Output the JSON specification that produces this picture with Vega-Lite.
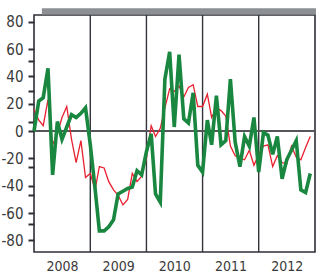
{
  "$schema": "https://vega.github.io/schema/vega-lite/v6.json",
  "width": 281,
  "height": 237,
  "autosize": {"type": "none"},
  "padding": {"left": 34, "top": 15, "right": 1, "bottom": 24},
  "config": {
    "view": {"stroke": "#2e2e36", "strokeWidth": 1.6},
    "axis": {"labelFont": "Liberation Sans Narrow, DejaVu Sans Condensed, sans-serif", "labelColor": "#3a3a3a", "grid": false, "domain": false, "title": null, "labelOverlap": false}
  },
  "datasets": {
    "series": [
      {"date":"2008-01-01","s":"red","v":16},{"date":"2008-02-01","s":"red","v":8},{"date":"2008-03-01","s":"red","v":4},{"date":"2008-04-01","s":"red","v":23},{"date":"2008-05-01","s":"red","v":-10},{"date":"2008-06-01","s":"red","v":-2},{"date":"2008-07-01","s":"red","v":10},{"date":"2008-08-01","s":"red","v":18},{"date":"2008-09-01","s":"red","v":-6},{"date":"2008-10-01","s":"red","v":-23},{"date":"2008-11-01","s":"red","v":-7},{"date":"2008-12-01","s":"red","v":-34},
      {"date":"2009-01-01","s":"red","v":-31},{"date":"2009-02-01","s":"red","v":-43},{"date":"2009-03-01","s":"red","v":-26},{"date":"2009-04-01","s":"red","v":-27},{"date":"2009-05-01","s":"red","v":-37},{"date":"2009-06-01","s":"red","v":-43},{"date":"2009-07-01","s":"red","v":-47},{"date":"2009-08-01","s":"red","v":-54},{"date":"2009-09-01","s":"red","v":-50},{"date":"2009-10-01","s":"red","v":-31},{"date":"2009-11-01","s":"red","v":-37},{"date":"2009-12-01","s":"red","v":-33},
      {"date":"2010-01-01","s":"red","v":-20},{"date":"2010-02-01","s":"red","v":4},{"date":"2010-03-01","s":"red","v":-4},{"date":"2010-04-01","s":"red","v":2},{"date":"2010-05-01","s":"red","v":17},{"date":"2010-06-01","s":"red","v":31},{"date":"2010-07-01","s":"red","v":29},{"date":"2010-08-01","s":"red","v":33},{"date":"2010-09-01","s":"red","v":25},{"date":"2010-10-01","s":"red","v":32},{"date":"2010-11-01","s":"red","v":34},{"date":"2010-12-01","s":"red","v":18},
      {"date":"2011-01-01","s":"red","v":18},{"date":"2011-02-01","s":"red","v":27},{"date":"2011-03-01","s":"red","v":10},{"date":"2011-04-01","s":"red","v":17},{"date":"2011-05-01","s":"red","v":15},{"date":"2011-06-01","s":"red","v":11},{"date":"2011-07-01","s":"red","v":-11},{"date":"2011-08-01","s":"red","v":-18},{"date":"2011-09-01","s":"red","v":-20},{"date":"2011-10-01","s":"red","v":-21},{"date":"2011-11-01","s":"red","v":-14},{"date":"2011-12-01","s":"red","v":-25},
      {"date":"2012-01-01","s":"red","v":-17},{"date":"2012-02-01","s":"red","v":-11},{"date":"2012-03-01","s":"red","v":-10},{"date":"2012-04-01","s":"red","v":-26},{"date":"2012-05-01","s":"red","v":-18},{"date":"2012-06-01","s":"red","v":-23},{"date":"2012-07-01","s":"red","v":-24},{"date":"2012-08-01","s":"red","v":-11},{"date":"2012-09-01","s":"red","v":-19},{"date":"2012-10-01","s":"red","v":-21},{"date":"2012-11-01","s":"red","v":-12},{"date":"2012-12-01","s":"red","v":-4},
      {"date":"2008-01-01","s":"green","v":0},{"date":"2008-02-01","s":"green","v":22},{"date":"2008-03-01","s":"green","v":24.5},{"date":"2008-04-01","s":"green","v":46},{"date":"2008-05-01","s":"green","v":-32},{"date":"2008-06-01","s":"green","v":7},{"date":"2008-07-01","s":"green","v":-6},{"date":"2008-08-01","s":"green","v":3},{"date":"2008-09-01","s":"green","v":12},{"date":"2008-10-01","s":"green","v":10},{"date":"2008-11-01","s":"green","v":13},{"date":"2008-12-01","s":"green","v":17},
      {"date":"2009-01-01","s":"green","v":-10},{"date":"2009-02-01","s":"green","v":-42},{"date":"2009-03-01","s":"green","v":-73},{"date":"2009-04-01","s":"green","v":-73},{"date":"2009-05-01","s":"green","v":-70},{"date":"2009-06-01","s":"green","v":-65},{"date":"2009-07-01","s":"green","v":-46},{"date":"2009-08-01","s":"green","v":-44},{"date":"2009-09-01","s":"green","v":-42},{"date":"2009-10-01","s":"green","v":-41},{"date":"2009-11-01","s":"green","v":-29},{"date":"2009-12-01","s":"green","v":-32},
      {"date":"2010-01-01","s":"green","v":-15},{"date":"2010-02-01","s":"green","v":-2},{"date":"2010-03-01","s":"green","v":-46},{"date":"2010-04-01","s":"green","v":-52},{"date":"2010-05-01","s":"green","v":38},{"date":"2010-06-01","s":"green","v":58},{"date":"2010-07-01","s":"green","v":3},{"date":"2010-08-01","s":"green","v":56},{"date":"2010-09-01","s":"green","v":9},{"date":"2010-10-01","s":"green","v":6},{"date":"2010-11-01","s":"green","v":28},{"date":"2010-12-01","s":"green","v":-25},
      {"date":"2011-01-01","s":"green","v":-30},{"date":"2011-02-01","s":"green","v":8},{"date":"2011-03-01","s":"green","v":-10},{"date":"2011-04-01","s":"green","v":26},{"date":"2011-05-01","s":"green","v":-10},{"date":"2011-06-01","s":"green","v":-7},{"date":"2011-07-01","s":"green","v":38},{"date":"2011-08-01","s":"green","v":-8},{"date":"2011-09-01","s":"green","v":-26},{"date":"2011-10-01","s":"green","v":-4},{"date":"2011-11-01","s":"green","v":-11},{"date":"2011-12-01","s":"green","v":10},
      {"date":"2012-01-01","s":"green","v":-30},{"date":"2012-02-01","s":"green","v":-1},{"date":"2012-03-01","s":"green","v":-3},{"date":"2012-04-01","s":"green","v":-17},{"date":"2012-05-01","s":"green","v":-4},{"date":"2012-06-01","s":"green","v":-35},{"date":"2012-07-01","s":"green","v":-21},{"date":"2012-08-01","s":"green","v":-14},{"date":"2012-09-01","s":"green","v":-7},{"date":"2012-10-01","s":"green","v":-43},{"date":"2012-11-01","s":"green","v":-45},{"date":"2012-12-01","s":"green","v":-31}
    ],
    "years": [{"d":"2009-01-01"},{"d":"2010-01-01"},{"d":"2011-01-01"},{"d":"2012-01-01"}],
    "one": [{}]
  },
  "layer": [
    {
      "data": {"name": "years"},
      "mark": {"type": "rule", "color": "#34343c", "strokeWidth": 1.4},
      "encoding": {
        "x": {"field": "d", "type": "temporal"}
      }
    },
    {
      "data": {"name": "one"},
      "mark": {"type": "rule", "color": "#55555a", "strokeWidth": 2},
      "encoding": {
        "y": {"datum": 0, "type": "quantitative"}
      }
    },
    {
      "data": {"name": "series"},
      "transform": [{"filter": "datum.s === 'red'"}],
      "mark": {"type": "line", "color": "#e8202e", "strokeWidth": 1.3},
      "encoding": {
        "x": {"field": "date", "type": "temporal",
          "scale": {"type": "utc", "domain": [{"year": 2008, "month": 1, "date": 1, "utc": true}, {"year": 2013, "month": 1, "date": 1, "utc": true}]},
          "axis": {"values": [{"year": 2008, "month": 7, "date": 1, "utc": true},{"year": 2009, "month": 7, "date": 1, "utc": true},{"year": 2010, "month": 7, "date": 1, "utc": true},{"year": 2011, "month": 7, "date": 1, "utc": true},{"year": 2012, "month": 7, "date": 1, "utc": true}],
            "tickCount": 10,
            "labelExpr": "utcFormat(datum.value, '%Y')", "ticks": false, "labelPadding": 7, "labelFontSize": 14, "labelFlush": false, "labelOverlap": false}
        },
        "y": {"field": "v", "type": "quantitative",
          "scale": {"domain": [-88.5, 85], "nice": false, "zero": false},
          "axis": {"values": [-80, -68, -60, -47, -40, -26, -20, 0, 7, 20, 29, 40, 51, 60, 80],
            "tickCount": 40,
            "labelExpr": "datum.value % 20 === 0 ? toString(datum.value) : ''",
            "tickSize": 6, "tickWidth": 2, "tickColor": "#2e2e36",
            "labelPadding": 5, "labelFontSize": 15, "labelOverlap": false,
            "encode": {"ticks": {"update": {"strokeDash": {"signal": "datum.value % 20 !== 0 ? [0, 2, 2, 10] : [1, 0]"}}}}}
        }
      }
    },
    {
      "data": {"name": "series"},
      "transform": [{"filter": "datum.s === 'green'"}],
      "mark": {"type": "line", "color": "#19873f", "strokeWidth": 3.6, "strokeJoin": "miter"},
      "encoding": {
        "x": {"field": "date", "type": "temporal"},
        "y": {"field": "v", "type": "quantitative"}
      }
    },
    {
      "data": {"name": "one"},
      "mark": {"type": "rect", "color": "#8d9093"},
      "encoding": {
        "x": {"datum": {"year": 2008, "month": 2, "date": 21, "utc": true}, "type": "temporal"},
        "x2": {"datum": {"year": 2013, "month": 2, "date": 1, "utc": true}},
        "y": {"datum": 85.4, "type": "quantitative"},
        "y2": {"datum": 90}
      }
    }
  ]
}
